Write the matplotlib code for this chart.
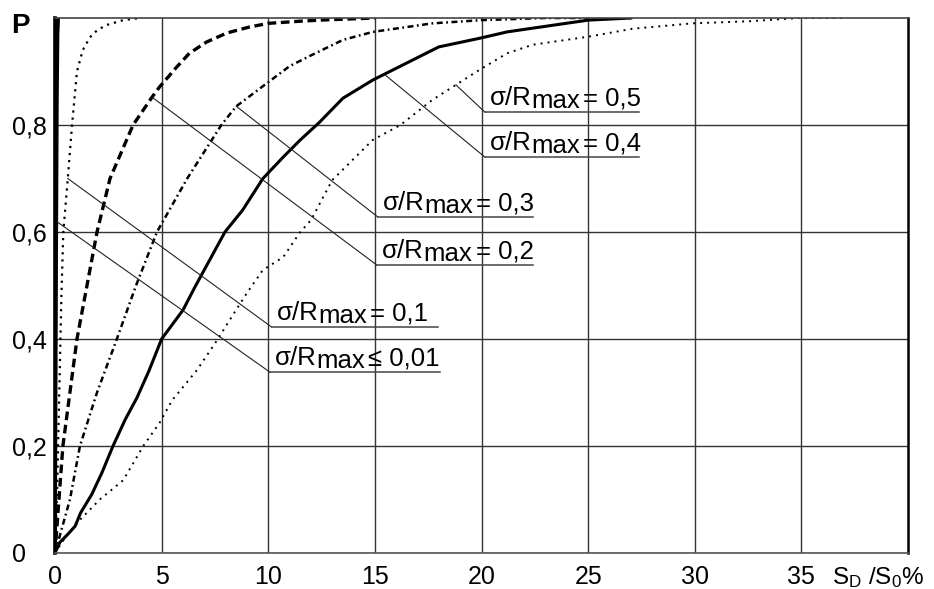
import matplotlib
matplotlib.use('Agg')
import matplotlib.pyplot as plt
from matplotlib.transforms import IdentityTransform

plt.rcParams['font.family'] = ['Liberation Sans', 'DejaVu Sans']
plt.rcParams['mathtext.fontset'] = 'custom'
plt.rcParams['mathtext.rm'] = 'Liberation Sans'
plt.rcParams['mathtext.it'] = 'Liberation Sans:italic'
plt.rcParams['mathtext.bf'] = 'Liberation Sans:bold'

# Kurven P ueber S_D/S_0 in %
x_001 = [0, 0.03, 0.06, 0.09, 0.12, 0.15]
p_001 = [0, 0.3, 0.6, 0.85, 0.97, 1.0]

x_01 = [0, 0.1, 0.2, 0.3, 0.39, 0.6, 0.8, 1.03, 1.3, 1.64, 2.0, 2.43, 3.2, 4.0]
p_01 = [0, 0.12, 0.3, 0.48, 0.6, 0.7, 0.8, 0.9, 0.94, 0.964, 0.978, 0.987, 0.996, 1.0]

x_02 = [0, 0.37, 0.7, 1.03, 1.5, 1.97, 2.58, 3.66, 4.55, 4.9, 5.7, 6.3, 7.1, 8.06, 9.1, 10, 11.5, 12.4, 15]
p_02 = [0, 0.2, 0.3, 0.4, 0.5, 0.6, 0.7, 0.8, 0.852, 0.871, 0.908, 0.934, 0.955, 0.972, 0.983, 0.99, 0.994, 0.996, 1.0]

x_03 = [0, 0.7, 1.17, 1.97, 2.9, 3.8, 4.78, 6.2, 7.8, 8.5, 10, 11, 12, 13.5, 14.9, 17.7, 20, 23, 27]
p_03 = [0, 0.1, 0.2, 0.3, 0.4, 0.5, 0.6, 0.7, 0.8, 0.835, 0.88, 0.91, 0.93, 0.959, 0.974, 0.99, 0.996, 1.0, 1.0]

x_04 = [0, 0.23, 0.6, 0.94, 1.2, 1.73, 2.2, 2.72, 3.3, 3.84, 4.4, 5.0, 6.0, 6.6, 7.97, 8.8, 9.75,
        10.7, 11.5, 12.4, 13.5, 14.9, 16.6, 18, 19.9, 21.2, 22.4, 25, 27]
p_04 = [0, 0.02, 0.035, 0.05, 0.075, 0.11, 0.15, 0.2, 0.25, 0.29, 0.34, 0.4, 0.454, 0.5, 0.6, 0.641, 0.7,
        0.74, 0.772, 0.805, 0.85, 0.884, 0.918, 0.946, 0.962, 0.974, 0.981, 0.996, 1.0]

x_05 = [0, 0.5, 1.17, 2.1, 3.2, 4.14, 4.9, 5.5, 6.66, 7.64, 8.2, 9.0, 9.75, 10.7, 11.5, 12.0, 13.0, 14.9,
        16.2, 17.7, 18.8, 19.9, 21.2, 22.4, 25, 27.1, 29.9, 32.6, 34.9, 37.1]
p_05 = [0, 0.03, 0.062, 0.1, 0.136, 0.2, 0.243, 0.286, 0.342, 0.4, 0.436, 0.486, 0.529, 0.553, 0.6, 0.622,
        0.697, 0.772, 0.8, 0.847, 0.875, 0.903, 0.934, 0.95, 0.965, 0.98, 0.99, 0.994, 1.0, 1.0]

x_ticks = [0, 5, 10, 15, 20, 25, 30, 35]
y_ticks = [0, 0.2, 0.4, 0.6, 0.8]
y_ticklabels = ['0', '0,2', '0,4', '0,6', '0,8']

# Beschriftungen: Text nach "σ/Rmax", Ankerpunkt auf der Kurve, Start und Ende der Unterstreichung
label_werte = ['\u2264 0,01', '= 0,1', '= 0,2', '= 0,3', '= 0,4', '= 0,5']
anker = [(0.1, 0.619), (0.6, 0.70), (4.55, 0.852), (8.5, 0.835), (15.5, 0.893), (18.8, 0.875)]
unterstrich = [(10.08, 0.338, 18.05), (10.17, 0.422, 17.95), (15.1, 0.538, 22.4),
               (15.14, 0.628, 22.4), (20.16, 0.740, 27.4), (20.16, 0.824, 27.4)]

fig = plt.figure(figsize=(9.34, 5.89), dpi=100)
ax = fig.add_axes([55 / 934, 36 / 589, 853 / 934, 535 / 589])

ax.plot(x_001, p_001, color='black', lw=2.6, solid_capstyle='butt')
ax.plot(x_01, p_01, color='black', lw=1.6, linestyle=(0, (1, 2.2)))
ax.plot(x_02, p_02, color='black', lw=2.4, linestyle=(0, (2.6, 1.4)))
ax.plot(x_03, p_03, color='black', lw=1.8, linestyle=(0, (2.4, 1.4, 0.7, 1.4)))
ax.plot(x_04, p_04, color='black', lw=2.2)
ax.plot(x_05, p_05, color='black', lw=1.4, linestyle=(0, (1, 2.6)))

ax.set_xlim(0, 40)
ax.set_ylim(0, 1)
ax.set_xticks(x_ticks)
ax.set_yticks(y_ticks, y_ticklabels)
ax.set_xticks([40], minor=True)
ax.set_yticks([1.0], minor=True)
ax.grid(True, color='#333333', lw=1.0)
ax.tick_params(axis='both', which='both', length=0, labelsize=18)
ax.tick_params(axis='x', pad=9)
ax.tick_params(axis='y', pad=31)
for lab in ax.get_yticklabels():
    lab.set_horizontalalignment('left')

ax.spines['left'].set_linewidth(2.6)
ax.spines['right'].set_linewidth(1.8)
ax.spines['top'].set_linewidth(1.2)
ax.spines['top'].set_color('#444444')
ax.spines['bottom'].set_linewidth(1.2)
ax.spines['bottom'].set_color('#555555')

ax.set_ylabel('P', rotation=0, fontsize=20, fontweight='bold', ha='center', va='center')
ax.yaxis.set_label_coords(-0.04, 0.985)
ax.set_xlabel('S$_{\\mathregular{D}}$ /S$_{\\mathregular{0}}$%', fontsize=17.5, ha='right')
ax.xaxis.set_label_coords(1.019, -0.022)

# Bezugslinien und Unterstreichungen
for (ax0, ay0), (ux1, uy, ux2) in zip(anker, unterstrich):
    ax.plot([ax0, ux1], [ay0, uy], color='#222222', lw=0.8)
    ax.plot([ux1, ux2], [uy, uy], color='#444444', lw=1.1)

fig.canvas.draw()
r = fig.canvas.get_renderer()
fs = 18.5
for wert, (ux1, uy, ux2) in zip(label_werte, unterstrich):
    px, py = ax.transData.transform((ux1, uy))
    base = py + 7
    t1 = fig.text(px + 5, base, '\u03c3/R', fontsize=fs, va='baseline', transform=IdentityTransform())
    b1 = t1.get_window_extent(r)
    t2 = fig.text(b1.x1, base - 3, 'max', fontsize=fs, va='baseline', transform=IdentityTransform())
    b2 = t2.get_window_extent(r)
    fig.text(b2.x1 + 3, base, wert, fontsize=fs, va='baseline', transform=IdentityTransform())

fig.savefig('out.png', dpi=100)
